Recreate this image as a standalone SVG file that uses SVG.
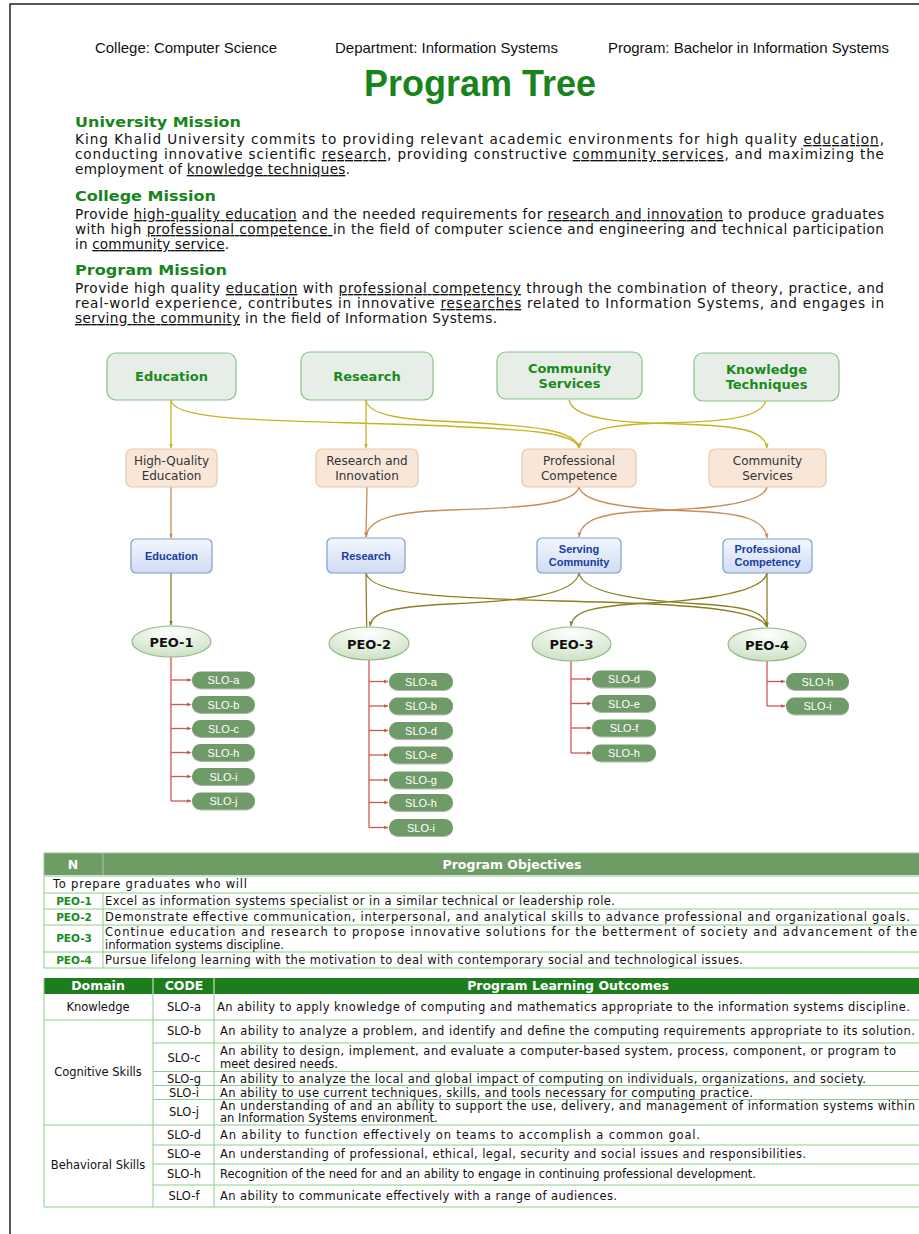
<svg xmlns="http://www.w3.org/2000/svg" width="919" height="1234" viewBox="0 0 919 1234">
<defs>
<style>
.hd{font-family:"Liberation Sans",Arial,sans-serif;font-size:15px;fill:#111}
.title{font-family:"Liberation Sans",Arial,sans-serif;font-size:36px;font-weight:bold;fill:#18841c;text-anchor:middle}
.mh{font-family:"DejaVu Sans",Verdana,sans-serif;font-size:14.5px;font-weight:bold;fill:#18841c}
.b{font-family:"DejaVu Sans",Verdana,sans-serif;font-size:13.6px;fill:#111}
.u{text-decoration:underline}
.top rect{fill:#e7eee7;stroke:#86c386;stroke-width:1.2}
.top text{font-family:"DejaVu Sans",Verdana,sans-serif;font-size:13px;font-weight:bold;fill:#1a8a1a;text-anchor:middle}
.mid rect{fill:#f8e7d9;stroke:#ebc9a8;stroke-width:1.2}
.mid text{font-family:"DejaVu Sans",Verdana,sans-serif;font-size:12px;fill:#333;text-anchor:middle}
.blu rect{fill:url(#gb);stroke:#7e9ed6;stroke-width:1.2}
.blu text{font-family:"Liberation Sans",Arial,sans-serif;font-size:11px;font-weight:bold;fill:#1b3c9e;text-anchor:middle}
.peo ellipse{fill:url(#gp);stroke:#93b98a;stroke-width:1.2}
.peo text{font-family:"DejaVu Sans",Verdana,sans-serif;font-size:13px;font-weight:bold;fill:#111;text-anchor:middle}
.slo rect{fill:#6e9b67;filter:url(#sh)}
.slo text{font-family:"Liberation Sans",Arial,sans-serif;font-size:11px;fill:#fff;text-anchor:middle}
.cy{fill:none;stroke:#c8b422;stroke-width:1.3;marker-end:url(#my)}
.cb{fill:none;stroke:#c98c58;stroke-width:1.3;marker-end:url(#mb)}
.co{fill:none;stroke:#8c7e22;stroke-width:1.3;marker-end:url(#mo)}
.cr{fill:none;stroke:#d0574c;stroke-width:1.3}
.cra{fill:none;stroke:#d0574c;stroke-width:1.3;marker-end:url(#mr)}
.tt{font-family:"DejaVu Sans",Verdana,sans-serif;font-size:11.5px;fill:#111}
.tc{font-family:"DejaVu Sans",Verdana,sans-serif;font-size:11.5px;fill:#111;text-anchor:middle}
.tp{font-family:"DejaVu Sans",Verdana,sans-serif;font-size:10.5px;font-weight:bold;fill:#1a8a1a;text-anchor:middle}
.th{font-family:"DejaVu Sans",Verdana,sans-serif;font-size:12.5px;font-weight:bold;fill:#fff;text-anchor:middle}
.gl{stroke:#8dcc8d;stroke-width:1;fill:none}
</style>
<linearGradient id="gb" x1="0" y1="0" x2="0" y2="1"><stop offset="0" stop-color="#f3f7fd"/><stop offset="1" stop-color="#cfdcf3"/></linearGradient>
<radialGradient id="gp" cx="0.5" cy="0.2" r="0.85"><stop offset="0" stop-color="#ffffff"/><stop offset="1" stop-color="#c9dfc0"/></radialGradient>
<filter id="sh" x="-10%" y="-20%" width="120%" height="160%"><feDropShadow dx="0" dy="1" stdDeviation="0.7" flood-color="#000" flood-opacity="0.3"/></filter>
<marker id="my" viewBox="0 0 10 10" refX="9" refY="5" markerWidth="5" markerHeight="5" markerUnits="userSpaceOnUse" orient="auto"><path d="M0,1 L10,5 L0,9z" fill="#c8b422"/></marker>
<marker id="mb" viewBox="0 0 10 10" refX="9" refY="5" markerWidth="5" markerHeight="5" markerUnits="userSpaceOnUse" orient="auto"><path d="M0,1 L10,5 L0,9z" fill="#c98c58"/></marker>
<marker id="mo" viewBox="0 0 10 10" refX="9" refY="5" markerWidth="5" markerHeight="5" markerUnits="userSpaceOnUse" orient="auto"><path d="M0,1 L10,5 L0,9z" fill="#8c7e22"/></marker>
<marker id="mr" viewBox="0 0 10 10" refX="9" refY="5" markerWidth="5" markerHeight="5" markerUnits="userSpaceOnUse" orient="auto"><path d="M0,1 L10,5 L0,9z" fill="#d0574c"/></marker>
</defs>
<rect width="919" height="1234" fill="#fff"/>
<path d="M10,1234 V4 H919" fill="none" stroke="#222" stroke-width="1.5"/>

<g id="header">
<text class="hd" x="95" y="53" textLength="182" lengthAdjust="spacingAndGlyphs">College: Computer Science</text>
<text class="hd" x="335" y="53" textLength="223" lengthAdjust="spacingAndGlyphs">Department: Information Systems</text>
<text class="hd" x="608" y="53" textLength="281" lengthAdjust="spacingAndGlyphs">Program: Bachelor in Information Systems</text>
<text class="title" x="480" y="96">Program Tree</text>
</g>

<g id="missions">
<text class="mh" x="75" y="127" textLength="166" lengthAdjust="spacingAndGlyphs">University Mission</text>
<text class="b" x="75" y="144" textLength="809" lengthAdjust="spacing">King Khalid University commits to providing relevant academic environments for high quality <tspan class="u">education</tspan>,</text>
<text class="b" x="75" y="159" textLength="809" lengthAdjust="spacing">conducting innovative scientific <tspan class="u">research</tspan>, providing constructive <tspan class="u">community services</tspan>, and maximizing the</text>
<text class="b" x="75" y="174" textLength="275" lengthAdjust="spacing">employment of <tspan class="u">knowledge techniques</tspan>.</text>

<text class="mh" x="75" y="201" textLength="141" lengthAdjust="spacingAndGlyphs">College Mission</text>
<text class="b" x="75" y="219" textLength="809" lengthAdjust="spacing">Provide <tspan class="u">high-quality education</tspan> and the needed requirements for <tspan class="u">research and innovation</tspan> to produce graduates</text>
<text class="b" x="75" y="234" textLength="809" lengthAdjust="spacing">with high <tspan class="u">professional competence </tspan>in the field of computer science and engineering and technical participation</text>
<text class="b" x="75" y="249" textLength="154" lengthAdjust="spacing">in <tspan class="u">community service</tspan>.</text>

<text class="mh" x="75" y="275" textLength="152" lengthAdjust="spacingAndGlyphs">Program Mission</text>
<text class="b" x="75" y="293" textLength="809" lengthAdjust="spacing">Provide high quality <tspan class="u">education</tspan> with <tspan class="u">professional competency</tspan> through the combination of theory, practice, and</text>
<text class="b" x="75" y="308" textLength="809" lengthAdjust="spacing">real-world experience, contributes in innovative <tspan class="u">researches</tspan> related to Information Systems, and engages in</text>
<text class="b" x="75" y="323" textLength="422" lengthAdjust="spacing"><tspan class="u">serving the community</tspan> in the field of Information Systems.</text>
</g>

<g id="connectors">
<path class="cy" d="M171,400 L171,448"/>
<path class="cy" d="M171,400 C172,422 280,420 420,425 C525,429 576,432 579,448"/>
<path class="cy" d="M366,400 L366,448"/>
<path class="cy" d="M366,400 C368,416 405,420 460,422 C535,426 576,430 579,448"/>
<path class="cy" d="M569,400 C573,420 625,423 680,424 C740,426 765,430 767,448"/>
<path class="cy" d="M766,400 C762,420 715,422 660,423 C600,425 582,432 579,448"/>

<path class="cb" d="M171,487 L171,538"/>
<path class="cb" d="M367,487 L366,537"/>
<path class="cb" d="M579,487 C575,505 520,508 450,510 C390,512 368,520 366,537"/>
<path class="cb" d="M579,487 C583,505 640,509 690,511 C745,513 765,520 767,538"/>
<path class="cb" d="M767,487 C763,505 700,509 650,511 C600,513 581,520 579,537"/>

<path class="co" d="M171,573 L171,625"/>
<path class="co" d="M366,573 L367,652"/>
<path class="co" d="M366,573 C370,595 450,598 560,601 C700,604 760,610 767,627"/>
<path class="co" d="M579,573 C575,595 520,601 450,604 C390,607 372,612 370,626"/>
<path class="co" d="M579,573 C583,595 650,601 700,604 C750,607 765,612 767,627"/>
<path class="co" d="M767,573 L767,627"/>
<path class="co" d="M767,573 C763,593 700,600 650,603 C590,606 572,612 571,626"/>

<path class="cr" d="M171,657 V801"/>
<path class="cra" d="M171,680 H191"/><path class="cra" d="M171,704.5 H191"/><path class="cra" d="M171,728.5 H191"/><path class="cra" d="M171,752.5 H191"/><path class="cra" d="M171,776.5 H191"/><path class="cra" d="M171,801 H191"/>
<path class="cr" d="M369,660 V827.5"/>
<path class="cra" d="M369,681.5 H388"/><path class="cra" d="M369,706 H388"/><path class="cra" d="M369,730.5 H388"/><path class="cra" d="M369,755 H388"/><path class="cra" d="M369,780 H388"/><path class="cra" d="M369,802.5 H388"/><path class="cra" d="M369,827.5 H388"/>
<path class="cr" d="M571,661 V753"/>
<path class="cra" d="M571,679 H591"/><path class="cra" d="M571,703.5 H591"/><path class="cra" d="M571,728 H591"/><path class="cra" d="M571,753 H591"/>
<path class="cr" d="M767,661 V706"/>
<path class="cra" d="M767,681.5 H785"/><path class="cra" d="M767,706 H785"/>
</g>

<g id="n-education" class="top"><rect x="107" y="353" width="129" height="47" rx="9"/><text x="171.5" y="381">Education</text></g>
<g id="n-research" class="top"><rect x="301" y="352" width="132" height="48" rx="9"/><text x="367" y="381">Research</text></g>
<g id="n-community" class="top"><rect x="497" y="352" width="145" height="47" rx="9"/><text x="569.5" y="373">Community</text><text x="569.5" y="388">Services</text></g>
<g id="n-knowledge" class="top"><rect x="694" y="353" width="145" height="48" rx="9"/><text x="766.5" y="374">Knowledge</text><text x="766.5" y="389">Techniques</text></g>

<g id="c-hq" class="mid"><rect x="126" y="449" width="91" height="38" rx="6"/><text x="171.5" y="465">High-Quality</text><text x="171.5" y="480">Education</text></g>
<g id="c-ri" class="mid"><rect x="316" y="449" width="102" height="38" rx="6"/><text x="367" y="465">Research and</text><text x="367" y="480">Innovation</text></g>
<g id="c-pc" class="mid"><rect x="522" y="449" width="114" height="38" rx="6"/><text x="579" y="465">Professional</text><text x="579" y="480">Competence</text></g>
<g id="c-cs" class="mid"><rect x="709" y="449" width="117" height="38" rx="6"/><text x="767.5" y="465">Community</text><text x="767.5" y="480">Services</text></g>

<g id="p-edu" class="blu"><rect x="131" y="539" width="81" height="34" rx="5"/><text x="171.5" y="560">Education</text></g>
<g id="p-res" class="blu"><rect x="327" y="538" width="78" height="35" rx="5"/><text x="366" y="560">Research</text></g>
<g id="p-sc" class="blu"><rect x="537" y="538" width="84" height="35" rx="5"/><text x="579" y="553">Serving</text><text x="579" y="566">Community</text></g>
<g id="p-pcy" class="blu"><rect x="723" y="539" width="89" height="34" rx="5"/><text x="767.5" y="553">Professional</text><text x="767.5" y="566">Competency</text></g>

<g id="peo1" class="peo"><ellipse cx="171.5" cy="641.5" rx="39.5" ry="15.5"/><text x="171.5" y="646.5">PEO-1</text></g>
<g id="peo2" class="peo"><ellipse cx="369" cy="643.5" rx="40" ry="16.5"/><text x="369" y="648.5">PEO-2</text></g>
<g id="peo3" class="peo"><ellipse cx="571.5" cy="644" rx="39.5" ry="17"/><text x="571.5" y="649">PEO-3</text></g>
<g id="peo4" class="peo"><ellipse cx="767" cy="644.5" rx="39" ry="16.5"/><text x="767" y="649.5">PEO-4</text></g>

<g id="slo-peo1" class="slo">
<rect x="192" y="671.5" width="63" height="17" rx="8.5"/><text x="223.5" y="684">SLO-a</text>
<rect x="192" y="696" width="63" height="17" rx="8.5"/><text x="223.5" y="708.5">SLO-b</text>
<rect x="192" y="720" width="63" height="17" rx="8.5"/><text x="223.5" y="732.5">SLO-c</text>
<rect x="192" y="744" width="63" height="17" rx="8.5"/><text x="223.5" y="756.5">SLO-h</text>
<rect x="192" y="768" width="63" height="17" rx="8.5"/><text x="223.5" y="780.5">SLO-i</text>
<rect x="192" y="792.5" width="63" height="17" rx="8.5"/><text x="223.5" y="805">SLO-j</text>
</g>
<g id="slo-peo2" class="slo">
<rect x="389" y="673" width="64" height="17" rx="8.5"/><text x="421" y="685.5">SLO-a</text>
<rect x="389" y="697.5" width="64" height="17" rx="8.5"/><text x="421" y="710">SLO-b</text>
<rect x="389" y="722" width="64" height="17" rx="8.5"/><text x="421" y="734.5">SLO-d</text>
<rect x="389" y="746.5" width="64" height="17" rx="8.5"/><text x="421" y="759">SLO-e</text>
<rect x="389" y="771.5" width="64" height="17" rx="8.5"/><text x="421" y="784">SLO-g</text>
<rect x="389" y="794" width="64" height="17" rx="8.5"/><text x="421" y="806.5">SLO-h</text>
<rect x="389" y="819" width="64" height="17" rx="8.5"/><text x="421" y="831.5">SLO-i</text>
</g>
<g id="slo-peo3" class="slo">
<rect x="592" y="670.5" width="64" height="17" rx="8.5"/><text x="624" y="683">SLO-d</text>
<rect x="592" y="695" width="64" height="17" rx="8.5"/><text x="624" y="707.5">SLO-e</text>
<rect x="592" y="719.5" width="64" height="17" rx="8.5"/><text x="624" y="732">SLO-f</text>
<rect x="592" y="744.5" width="64" height="17" rx="8.5"/><text x="624" y="757">SLO-h</text>
</g>
<g id="slo-peo4" class="slo">
<rect x="786" y="673" width="63" height="17" rx="8.5"/><text x="817.5" y="685.5">SLO-h</text>
<rect x="786" y="697.5" width="63" height="17" rx="8.5"/><text x="817.5" y="710">SLO-i</text>
</g>

<g id="table-objectives">
<rect x="44" y="853" width="880" height="22" fill="#6e9b66"/>
<line x1="103" y1="853" x2="103" y2="875" stroke="#a9c9a2"/>
<text class="th" x="73" y="869">N</text>
<text class="th" x="512" y="869">Program Objectives</text>
<path class="gl" d="M44,853 H919 M44,876 H919 M44,893 H919 M44,909 H919 M44,925 H919 M44,952 H919 M44,968 H919 M44,853 V968 M103,893 V968"/>
<text class="tt" x="53" y="888" textLength="194" lengthAdjust="spacing">To prepare graduates who will</text>
<text class="tp" x="74" y="905">PEO-1</text>
<text class="tp" x="74" y="921">PEO-2</text>
<text class="tp" x="74" y="942">PEO-3</text>
<text class="tp" x="74" y="964">PEO-4</text>
<text class="tt" x="105" y="905" textLength="510" lengthAdjust="spacing">Excel as information systems specialist or in a similar technical or leadership role.</text>
<text class="tt" x="105" y="921" textLength="805" lengthAdjust="spacing">Demonstrate effective communication, interpersonal, and analytical skills to advance professional and organizational goals.</text>
<text class="tt" x="105" y="936" textLength="812" lengthAdjust="spacing">Continue education and research to propose innovative solutions for the betterment of society and advancement of the</text>
<text class="tt" x="105" y="949">information systems discipline.</text>
<text class="tt" x="105" y="964" textLength="638" lengthAdjust="spacing">Pursue lifelong learning with the motivation to deal with contemporary social and technological issues.</text>
</g>

<g id="table-outcomes">
<rect x="44" y="978" width="880" height="16" fill="#1c7d1c"/>
<line x1="153" y1="978" x2="153" y2="994" stroke="#dfeedf"/>
<line x1="214" y1="978" x2="214" y2="994" stroke="#dfeedf"/>
<text class="th" x="98" y="990">Domain</text>
<text class="th" x="184" y="990">CODE</text>
<text class="th" x="568" y="990">Program Learning Outcomes</text>
<path class="gl" d="M44,978 V1207 M153,994 V1207 M214,994 V1207 M44,1020 H919 M44,1125 H919 M44,1207 H919 M153,1043 H919 M153,1071.5 H919 M153,1085.5 H919 M153,1099.5 H919 M153,1145 H919 M153,1164 H919 M153,1185 H919"/>
<text class="tc" x="98" y="1011">Knowledge</text>
<text class="tc" x="98" y="1076">Cognitive Skills</text>
<text class="tc" x="98" y="1169">Behavioral Skills</text>
<text class="tc" x="184" y="1011">SLO-a</text>
<text class="tc" x="184" y="1035">SLO-b</text>
<text class="tc" x="184" y="1062">SLO-c</text>
<text class="tc" x="184" y="1082.5">SLO-g</text>
<text class="tc" x="184" y="1096.5">SLO-i</text>
<text class="tc" x="184" y="1116">SLO-j</text>
<text class="tc" x="184" y="1139">SLO-d</text>
<text class="tc" x="184" y="1158">SLO-e</text>
<text class="tc" x="184" y="1178">SLO-h</text>
<text class="tc" x="184" y="1200">SLO-f</text>
<text class="tt" x="217" y="1011" textLength="693" lengthAdjust="spacing">An ability to apply knowledge of computing and mathematics appropriate to the information systems discipline.</text>
<text class="tt" x="220" y="1035" textLength="695" lengthAdjust="spacing">An ability to analyze a problem, and identify and define the computing requirements appropriate to its solution.</text>
<text class="tt" x="220" y="1055" textLength="676" lengthAdjust="spacing">An ability to design, implement, and evaluate a computer-based system, process, component, or program to</text>
<text class="tt" x="220" y="1068">meet desired needs.</text>
<text class="tt" x="220" y="1082.5" textLength="646" lengthAdjust="spacing">An ability to analyze the local and global impact of computing on individuals, organizations, and society.</text>
<text class="tt" x="220" y="1096.5" textLength="533" lengthAdjust="spacing">An ability to use current techniques, skills, and tools necessary for computing practice.</text>
<text class="tt" x="220" y="1109.5" textLength="695" lengthAdjust="spacing">An understanding of and an ability to support the use, delivery, and management of information systems within</text>
<text class="tt" x="220" y="1122">an Information Systems environment.</text>
<text class="tt" x="220" y="1139" textLength="480" lengthAdjust="spacing">An ability to function effectively on teams to accomplish a common goal.</text>
<text class="tt" x="220" y="1158" textLength="586" lengthAdjust="spacing">An understanding of professional, ethical, legal, security and social issues and responsibilities.</text>
<text class="tt" x="220" y="1178">Recognition of the need for and an ability to engage in continuing professional development.</text>
<text class="tt" x="220" y="1200" textLength="397" lengthAdjust="spacing">An ability to communicate effectively with a range of audiences.</text>
</g>
</svg>
